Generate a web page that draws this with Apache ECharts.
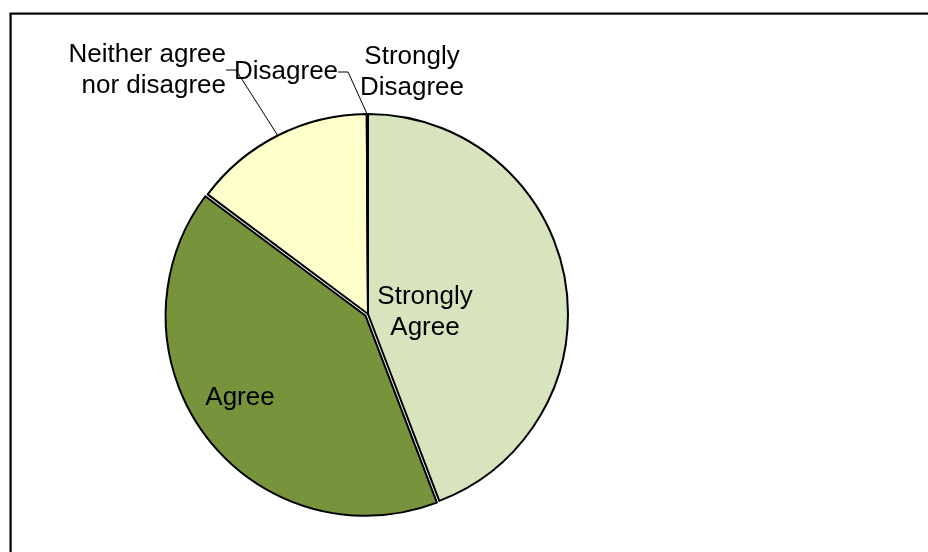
<!DOCTYPE html>
<html>
<head>
<meta charset="utf-8">
<script src="https://cdn.jsdelivr.net/npm/echarts@6/dist/echarts.min.js"></script>
<style>
  html, body { margin: 0; padding: 0; background: #fff; }
  #chart { width: 928px; height: 552px; }
</style>
</head>
<body>
<div id="chart"></div>
<script>
var categories = ['Strongly Agree', 'Agree', 'Neither agree nor disagree', 'Disagree', 'Strongly Disagree'];
var shares = [44.2, 41.0, 14.7, 0.06, 0.04];
var labelTexts = ['Strongly\nAgree', 'Agree', 'Neither agree\nnor disagree', 'Disagree', 'Strongly\nDisagree'];
var sliceColors = ['#d7e4bd', '#77933c', '#ffffcc', '#4f6228', '#c3d69b'];
// where each label sits: [x, y, align]
var labelSpots = [
  [425, 312, 'center'],
  [240, 398, 'center'],
  [226, 70, 'right'],
  [234, 72, 'left'],
  [412, 72, 'center']
];
var showLeader = [false, false, true, true, false];
var explodedIndex = 1; // "Agree" is pulled out a little

var chart = echarts.init(document.getElementById('chart'));

// exploded slice drawn by a second pie with a shifted centre
var pieCenter = [368, 314];
var midAngle = (90 - 360 * (shares[0] + shares[1] / 2) / 100) * Math.PI / 180;
var explodeDist = 3;
var explodedCenter = [pieCenter[0] + explodeDist * Math.cos(midAngle), pieCenter[1] - explodeDist * Math.sin(midAngle)];

function buildData(onlyExploded) {
  return categories.map(function (name, i) {
    var visible = onlyExploded ? i === explodedIndex : i !== explodedIndex;
    return {
      name: name,
      value: shares[i],
      itemStyle: visible
        ? { color: sliceColors[i], borderColor: '#000', borderWidth: 2 }
        : { color: 'rgba(0,0,0,0)', borderWidth: 0 },
      label: {
        show: visible,
        formatter: labelTexts[i],
        position: i >= 2 ? 'outside' : 'inside',
        align: labelSpots[i][2]
      },
      labelLine: { show: visible && showLeader[i] }
    };
  });
}

function pieSeries(center, onlyExploded) {
  return {
    type: 'pie',
    silent: true,
    center: center,
    radius: [0, 200],
    startAngle: 90,
    clockwise: true,
    avoidLabelOverlap: false,
    data: buildData(onlyExploded),
    label: {
      color: '#000',
      fontFamily: 'Liberation Sans, Arial, sans-serif',
      fontSize: 26,
      lineHeight: 31
    },
    labelLine: {
      length: 15,
      length2: 10,
      lineStyle: { color: '#000', width: 1 }
    },
    labelLayout: function (params) {
      var s = labelSpots[params.dataIndex];
      return { x: s[0], y: s[1], align: s[2], verticalAlign: 'middle' };
    }
  };
}

chart.setOption({
  animation: false,
  backgroundColor: '#fff',
  graphic: [{
    type: 'rect',
    shape: { x: 11.5, y: 14.5, width: 940, height: 560 },
    style: { fill: 'none', stroke: '#999', lineWidth: 1 },
    silent: true
  }, {
    type: 'rect',
    shape: { x: 10.5, y: 13.5, width: 940, height: 560 },
    style: { fill: 'none', stroke: '#000', lineWidth: 2 },
    silent: true
  }],
  series: [
    pieSeries(pieCenter, false),
    pieSeries(explodedCenter, true)
  ]
});
</script>
</body>
</html>
